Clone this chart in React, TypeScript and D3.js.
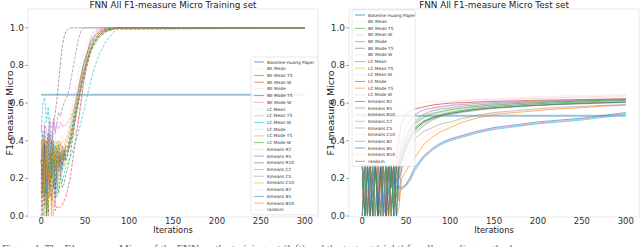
import React from 'react';
import * as d3 from 'd3';

const W = 640;
const H = 247;

// series names (baseline first, then the 22 methods)
const baselineName = 'Baseline Huang Paper';
const methodNames = [
  'BE Mean', 'BE Mean TS', 'BE Mean W', 'BE Mode', 'BE Mode TS', 'BE Mode W',
  'LC Mean', 'LC Mean TS', 'LC Mean W', 'LC Mode', 'LC Mode TS', 'LC Mode W',
  'Kmeans R2', 'Kmeans R5', 'Kmeans R10', 'Kmeans C2', 'Kmeans C5', 'Kmeans C10',
  'Kmeans B2', 'Kmeans B5', 'Kmeans B10', 'random',
];

const xTicks = [0, 50, 100, 150, 200, 250, 300];
const yTicks = [0, 0.2, 0.4, 0.6, 0.8, 1.0];

// ---- training set ----
const trainIters = [0, 2, 4, 6, 8, 10, 12, 14, 16, 18, 20, 22, 24, 26, 28, 30, 33, 36, 39, 42, 45, 48, 52, 56, 60, 66, 74, 85, 300];
const trainBaseline = 0.645;
const trainValues = [
  [0.32, 0.05, 0.41, 0.12, 0.38, 0.0, 0.29, 0.44, 0.18, 0.35, 0.26, 0.4, 0.22, 0.37, 0.3, 0.34, 0.4, 0.47, 0.55, 0.62, 0.69, 0.75, 0.82, 0.88, 0.92, 0.96, 0.985, 0.998, 1],
  [0.28, 0.45, 0.1, 0.36, 0.02, 0.31, 0.4, 0.15, 0.33, 0.27, 0.38, 0.21, 0.3, 0.35, 0.29, 0.33, 0.38, 0.44, 0.52, 0.6, 0.67, 0.73, 0.8, 0.87, 0.91, 0.95, 0.98, 0.997, 1],
  [0.3, 0.12, 0.38, 0.0, 0.25, 0.33, 0.08, 0.2, 0.03, 0.05, 0.04, 0.05, 0.06, 0.08, 0.1, 0.14, 0.2, 0.3, 0.4, 0.5, 0.6, 0.7, 0.8, 0.88, 0.93, 0.97, 0.99, 1, 1],
  [0.35, 0.2, 0.46, 0.3, 0.1, 0.42, 0.28, 0.37, 0.45, 0.33, 0.4, 0.36, 0.43, 0.39, 0.41, 0.45, 0.52, 0.6, 0.68, 0.75, 0.81, 0.86, 0.91, 0.95, 0.97, 0.99, 1, 1, 1],
  [0.2, 0.38, 0.05, 0.3, 0.44, 0.15, 0.36, 0.48, 0.55, 0.62, 0.72, 0.82, 0.9, 0.95, 0.98, 0.99, 1, 1, 1, 1, 1, 1, 1, 1, 1, 1, 1, 1, 1],
  [0.25, 0.0, 0.3, 0.18, 0.4, 0.1, 0.22, 0.35, 0.05, 0.28, 0.33, 0.2, 0.38, 0.3, 0.36, 0.38, 0.4, 0.42, 0.44, 0.48, 0.58, 0.7, 0.84, 0.94, 0.98, 0.995, 1, 1, 1],
  [0.15, 0.4, 0.27, 0.05, 0.33, 0.22, 0.45, 0.12, 0.3, 0.38, 0.2, 0.34, 0.28, 0.31, 0.27, 0.3, 0.36, 0.43, 0.5, 0.58, 0.65, 0.72, 0.79, 0.86, 0.9, 0.95, 0.98, 0.997, 1],
  [0.1, 0.32, 0.0, 0.25, 0.37, 0.19, 0.05, 0.31, 0.24, 0.4, 0.15, 0.29, 0.36, 0.26, 0.33, 0.35, 0.41, 0.48, 0.56, 0.63, 0.7, 0.76, 0.83, 0.89, 0.93, 0.97, 0.99, 1, 1],
  [0.45, 0.6, 0.63, 0.5, 0.58, 0.35, 0.2, 0.4, 0.28, 0.1, 0.32, 0.25, 0.18, 0.22, 0.26, 0.28, 0.31, 0.35, 0.39, 0.44, 0.49, 0.55, 0.63, 0.71, 0.78, 0.86, 0.93, 0.99, 1],
  [0.05, 0.3, 0.42, 0.0, 0.2, 0.35, 0.12, 0.27, 0.4, 0.18, 0.3, 0.24, 0.37, 0.29, 0.34, 0.37, 0.43, 0.5, 0.57, 0.64, 0.7, 0.77, 0.84, 0.9, 0.94, 0.97, 0.99, 1, 1],
  [0.38, 0.4, 0.2, 0.36, 0.42, 0.3, 0.39, 0.33, 0.25, 0.37, 0.4, 0.28, 0.35, 0.32, 0.38, 0.4, 0.46, 0.53, 0.6, 0.67, 0.74, 0.8, 0.86, 0.92, 0.95, 0.98, 0.995, 1, 1],
  [0.3, 0.1, 0.35, 0.0, 0.28, 0.15, 0.4, 0.22, 0.33, 0.18, 0.12, 0.2, 0.15, 0.17, 0.22, 0.25, 0.32, 0.42, 0.52, 0.6, 0.68, 0.75, 0.82, 0.88, 0.92, 0.96, 0.985, 0.998, 1],
  [0.22, 0.35, 0.08, 0.3, 0.16, 0.4, 0.25, 0.0, 0.2, 0.32, 0.27, 0.36, 0.31, 0.28, 0.34, 0.36, 0.42, 0.49, 0.57, 0.65, 0.72, 0.79, 0.86, 0.91, 0.95, 0.98, 0.995, 1, 1],
  [0.4, 0.15, 0.48, 0.3, 0.44, 0.5, 0.38, 0.52, 0.45, 0.5, 0.55, 0.53, 0.57, 0.6, 0.62, 0.64, 0.7, 0.78, 0.86, 0.93, 0.98, 1, 1, 1, 1, 1, 1, 1, 1],
  [0.12, 0.28, 0.4, 0.2, 0.0, 0.33, 0.26, 0.38, 0.14, 0.3, 0.24, 0.32, 0.27, 0.35, 0.3, 0.33, 0.39, 0.46, 0.54, 0.61, 0.68, 0.75, 0.82, 0.88, 0.92, 0.96, 0.985, 0.998, 1],
  [0.48, 0.3, 0.5, 0.45, 0.36, 0.52, 0.47, 0.5, 0.44, 0.49, 0.46, 0.5, 0.47, 0.49, 0.48, 0.5, 0.52, 0.55, 0.6, 0.66, 0.73, 0.8, 0.87, 0.93, 0.96, 0.99, 1, 1, 1],
  [0.18, 0.0, 0.3, 0.4, 0.22, 0.1, 0.34, 0.28, 0.38, 0.2, 0.31, 0.26, 0.33, 0.3, 0.35, 0.34, 0.4, 0.47, 0.55, 0.62, 0.69, 0.76, 0.83, 0.89, 0.93, 0.97, 0.99, 1, 1],
  [0.25, 0.42, 0.15, 0.35, 0.05, 0.3, 0.38, 0.2, 0.34, 0.27, 0.36, 0.3, 0.33, 0.37, 0.4, 0.42, 0.48, 0.55, 0.62, 0.69, 0.75, 0.81, 0.87, 0.92, 0.95, 0.98, 0.995, 1, 1],
  [0.33, 0.5, 0.25, 0.42, 0.3, 0.15, 0.36, 0.0, 0.28, 0.33, 0.38, 0.3, 0.26, 0.34, 0.31, 0.32, 0.37, 0.44, 0.51, 0.58, 0.65, 0.72, 0.8, 0.86, 0.91, 0.95, 0.98, 0.997, 1],
  [0.0, 0.25, 0.38, 0.12, 0.32, 0.44, 0.2, 0.3, 0.1, 0.36, 0.29, 0.34, 0.24, 0.33, 0.37, 0.36, 0.42, 0.5, 0.58, 0.66, 0.73, 0.8, 0.86, 0.91, 0.95, 0.98, 0.995, 1, 1],
  [0.36, 0.1, 0.28, 0.4, 0.18, 0.32, 0.0, 0.25, 0.37, 0.22, 0.34, 0.39, 0.3, 0.36, 0.33, 0.35, 0.4, 0.46, 0.53, 0.6, 0.67, 0.74, 0.81, 0.87, 0.92, 0.96, 0.985, 0.998, 1],
  [0.27, 0.38, 0.12, 0.33, 0.45, 0.2, 0.3, 0.4, 0.15, 0.25, 0.35, 0.28, 0.32, 0.3, 0.36, 0.33, 0.38, 0.45, 0.52, 0.59, 0.66, 0.73, 0.8, 0.86, 0.9, 0.95, 0.98, 0.997, 1],
];
const trainAlpha = [0.18, 0.75, 0.7, 0.18, 0.75, 0.7, 0.18, 0.7, 0.75, 0.18, 0.7, 0.75, 0.2, 0.75, 0.7, 0.7, 0.6, 0.7, 0.18, 0.7, 0.7, 0.18];

// ---- test set ----
const testIters = [0, 3, 6, 9, 12, 15, 18, 21, 24, 27, 30, 33, 36, 39, 42, 45, 50, 55, 60, 70, 80, 90, 100, 115, 130, 150, 175, 200, 225, 250, 275, 300];
const testBaseline = 0.533;
const testValues = [
  [0.27, 0.0, 0.25, 0.1, 0.27, 0.02, 0.2, 0.27, 0.05, 0.27, 0.15, 0.27, 0.3, 0.45, 0.55, 0.58, 0.59, 0.6, 0.6, 0.605, 0.607, 0.61, 0.612, 0.615, 0.617, 0.62, 0.622, 0.625, 0.627, 0.628, 0.63, 0.632],
  [0.0, 0.27, 0.03, 0.25, 0.0, 0.27, 0.12, 0.0, 0.27, 0.08, 0.27, 0.02, 0.22, 0.1, 0.27, 0.3, 0.38, 0.43, 0.47, 0.505, 0.525, 0.54, 0.55, 0.563, 0.573, 0.582, 0.59, 0.597, 0.602, 0.606, 0.61, 0.614],
  [0.27, 0.05, 0.27, 0.0, 0.22, 0.27, 0.0, 0.27, 0.1, 0.0, 0.27, 0.2, 0.27, 0.05, 0.27, 0.32, 0.4, 0.45, 0.48, 0.52, 0.54, 0.55, 0.56, 0.57, 0.58, 0.585, 0.59, 0.595, 0.598, 0.6, 0.603, 0.605],
  [0.1, 0.27, 0.0, 0.27, 0.18, 0.0, 0.27, 0.04, 0.27, 0.0, 0.25, 0.27, 0.06, 0.27, 0.2, 0.33, 0.42, 0.47, 0.5, 0.54, 0.56, 0.57, 0.575, 0.585, 0.59, 0.597, 0.603, 0.607, 0.61, 0.613, 0.616, 0.618],
  [0.27, 0.0, 0.2, 0.27, 0.0, 0.27, 0.06, 0.27, 0.0, 0.27, 0.12, 0.0, 0.27, 0.18, 0.27, 0.3, 0.37, 0.42, 0.46, 0.5, 0.52, 0.535, 0.545, 0.557, 0.567, 0.575, 0.583, 0.59, 0.595, 0.6, 0.603, 0.606],
  [0.0, 0.27, 0.1, 0.27, 0.0, 0.22, 0.27, 0.0, 0.27, 0.15, 0.27, 0.0, 0.27, 0.35, 0.45, 0.5, 0.53, 0.55, 0.56, 0.58, 0.59, 0.6, 0.605, 0.612, 0.618, 0.624, 0.63, 0.634, 0.637, 0.64, 0.642, 0.645],
  [0.27, 0.12, 0.0, 0.27, 0.25, 0.0, 0.27, 0.15, 0.0, 0.27, 0.0, 0.27, 0.1, 0.27, 0.08, 0.28, 0.35, 0.4, 0.44, 0.48, 0.51, 0.53, 0.54, 0.552, 0.562, 0.572, 0.58, 0.587, 0.592, 0.596, 0.6, 0.603],
  [0.05, 0.27, 0.0, 0.2, 0.27, 0.0, 0.27, 0.27, 0.02, 0.2, 0.27, 0.0, 0.27, 0.12, 0.25, 0.29, 0.36, 0.41, 0.45, 0.49, 0.515, 0.53, 0.543, 0.555, 0.565, 0.575, 0.583, 0.59, 0.596, 0.6, 0.604, 0.607],
  [0.27, 0.0, 0.27, 0.05, 0.0, 0.27, 0.18, 0.27, 0.0, 0.27, 0.1, 0.27, 0.0, 0.27, 0.3, 0.36, 0.43, 0.47, 0.5, 0.53, 0.55, 0.56, 0.568, 0.577, 0.585, 0.592, 0.598, 0.603, 0.607, 0.61, 0.613, 0.615],
  [0.2, 0.27, 0.0, 0.27, 0.1, 0.27, 0.0, 0.25, 0.27, 0.0, 0.27, 0.05, 0.2, 0.15, 0.16, 0.15, 0.17, 0.21, 0.26, 0.32, 0.36, 0.39, 0.41, 0.43, 0.45, 0.47, 0.485, 0.5, 0.51, 0.52, 0.535, 0.55],
  [0.27, 0.0, 0.27, 0.15, 0.0, 0.27, 0.22, 0.0, 0.27, 0.0, 0.27, 0.18, 0.27, 0.0, 0.05, 0.2, 0.24, 0.28, 0.31, 0.38, 0.42, 0.45, 0.47, 0.5, 0.52, 0.54, 0.55, 0.56, 0.57, 0.575, 0.585, 0.59],
  [0.0, 0.2, 0.27, 0.0, 0.27, 0.1, 0.0, 0.27, 0.2, 0.27, 0.0, 0.27, 0.15, 0.0, 0.27, 0.3, 0.38, 0.44, 0.47, 0.51, 0.53, 0.545, 0.555, 0.565, 0.575, 0.583, 0.59, 0.596, 0.6, 0.604, 0.607, 0.61],
  [0.27, 0.0, 0.27, 0.0, 0.27, 0.27, 0.0, 0.2, 0.27, 0.0, 0.27, 0.27, 0.0, 0.3, 0.42, 0.5, 0.54, 0.56, 0.57, 0.58, 0.59, 0.595, 0.6, 0.603, 0.606, 0.609, 0.612, 0.615, 0.617, 0.619, 0.621, 0.623],
  [0.15, 0.27, 0.05, 0.27, 0.0, 0.27, 0.1, 0.27, 0.0, 0.27, 0.22, 0.0, 0.27, 0.25, 0.3, 0.4, 0.47, 0.51, 0.54, 0.565, 0.575, 0.582, 0.587, 0.593, 0.598, 0.603, 0.607, 0.611, 0.614, 0.617, 0.62, 0.622],
  [0.27, 0.1, 0.0, 0.27, 0.0, 0.27, 0.27, 0.0, 0.15, 0.27, 0.0, 0.27, 0.2, 0.27, 0.28, 0.35, 0.42, 0.47, 0.51, 0.55, 0.57, 0.58, 0.59, 0.6, 0.607, 0.614, 0.62, 0.625, 0.629, 0.633, 0.636, 0.638],
  [0.0, 0.27, 0.12, 0.27, 0.0, 0.25, 0.27, 0.0, 0.27, 0.1, 0.0, 0.27, 0.1, 0.2, 0.14, 0.15, 0.16, 0.19, 0.24, 0.31, 0.355, 0.385, 0.405, 0.425, 0.445, 0.465, 0.48, 0.495, 0.505, 0.515, 0.53, 0.545],
  [0.27, 0.0, 0.27, 0.2, 0.0, 0.27, 0.0, 0.27, 0.1, 0.27, 0.0, 0.2, 0.27, 0.0, 0.2, 0.25, 0.3, 0.36, 0.41, 0.45, 0.47, 0.49, 0.5, 0.52, 0.535, 0.55, 0.56, 0.57, 0.578, 0.583, 0.588, 0.592],
  [0.1, 0.27, 0.0, 0.27, 0.27, 0.05, 0.27, 0.0, 0.27, 0.2, 0.27, 0.0, 0.27, 0.22, 0.32, 0.38, 0.44, 0.48, 0.51, 0.54, 0.555, 0.565, 0.572, 0.58, 0.588, 0.595, 0.6, 0.604, 0.607, 0.61, 0.612, 0.614],
  [0.27, 0.0, 0.27, 0.05, 0.27, 0.0, 0.18, 0.27, 0.0, 0.27, 0.12, 0.27, 0.0, 0.18, 0.15, 0.14, 0.16, 0.2, 0.25, 0.31, 0.35, 0.38, 0.4, 0.42, 0.44, 0.46, 0.475, 0.49, 0.5, 0.51, 0.525, 0.54],
  [0.0, 0.27, 0.27, 0.0, 0.2, 0.27, 0.0, 0.27, 0.05, 0.0, 0.27, 0.15, 0.27, 0.0, 0.27, 0.3, 0.37, 0.42, 0.46, 0.5, 0.52, 0.535, 0.545, 0.556, 0.566, 0.575, 0.582, 0.589, 0.594, 0.598, 0.602, 0.605],
  [0.27, 0.05, 0.0, 0.27, 0.27, 0.0, 0.27, 0.12, 0.27, 0.0, 0.27, 0.0, 0.1, 0.2, 0.22, 0.24, 0.28, 0.33, 0.37, 0.42, 0.45, 0.47, 0.49, 0.51, 0.53, 0.545, 0.555, 0.565, 0.572, 0.578, 0.583, 0.588],
  [0.2, 0.0, 0.27, 0.27, 0.0, 0.27, 0.05, 0.0, 0.27, 0.27, 0.0, 0.27, 0.0, 0.27, 0.28, 0.34, 0.41, 0.46, 0.49, 0.525, 0.545, 0.555, 0.565, 0.575, 0.583, 0.59, 0.597, 0.602, 0.607, 0.611, 0.615, 0.618],
];
const testAlpha = [0.18, 0.75, 0.18, 0.7, 0.7, 0.2, 0.7, 0.7, 0.18, 0.75, 0.75, 0.18, 0.75, 0.7, 0.18, 0.7, 0.6, 0.18, 0.75, 0.75, 0.2, 0.75];

const FONT = '"DejaVu Sans", sans-serif';
const color = (i: number) => d3.schemeCategory10[i % 10];

type PanelProps = {
  left: number;
  title: string;
  iters: number[];
  values: number[][];
  baseline: number;
  alpha: number[];
  dashed: boolean;
  legend: { x: number; y: number; w: number; step: number };
};

function Panel({ left, title, iters, values, baseline, alpha, dashed, legend }: PanelProps) {
  const right = left + 290;
  const top = 9;
  const bottom = 217;
  const x = d3.scaleLinear().domain([-15, 315]).range([left, right]);
  const y = d3.scaleLinear().domain([-0.005, 1.1]).range([bottom, top]);
  const line = d3.line<number>().x((_, i) => x(iters[i])).y(d => y(d));
  const clipId = `clip-${left}`;
  const legendNames = [baselineName, ...methodNames];
  const legendH = legend.step * (legendNames.length - 1) + 10;

  return (
    <g>
      <defs>
        <clipPath id={clipId}>
          <rect x={left} y={top} width={right - left} height={bottom - top} />
        </clipPath>
      </defs>
      <rect x={left} y={top} width={right - left} height={bottom - top} fill="white" stroke="#e3e3e3" strokeWidth={0.8} />
      <g clipPath={`url(#${clipId})`}>
        <line x1={x(0)} x2={x(300)} y1={y(baseline)} y2={y(baseline)} stroke={color(0)} strokeOpacity={0.45} strokeWidth={2} />
        {values.map((vals, i) => (
          <path
            key={i}
            d={line(vals) || ''}
            fill="none"
            stroke={color(i + 1)}
            strokeOpacity={alpha[i]}
            strokeWidth={0.8}
            strokeDasharray={dashed ? '3,1.4' : undefined}
          />
        ))}
      </g>
      {/* y axis */}
      {yTicks.map(t => (
        <g key={t}>
          <line x1={left - 3} x2={left} y1={y(t)} y2={y(t)} stroke="#666" strokeWidth={0.6} />
          <text x={left - 4} y={y(t)} dy="0.33em" textAnchor="end" fontSize={9} fill="#333" fontFamily={FONT}>
            {t.toFixed(1)}
          </text>
        </g>
      ))}
      {/* x axis */}
      {xTicks.map(t => (
        <g key={t}>
          <line x1={x(t)} x2={x(t)} y1={bottom} y2={bottom + 1.5} stroke="#666" strokeWidth={0.6} />
          <text x={x(t)} y={bottom + 7} textAnchor="middle" fontSize={8.5} fill="#333" fontFamily={FONT}>
            {t}
          </text>
        </g>
      ))}
      <text x={(left + right) / 2} y={233} textAnchor="middle" fontSize={8.3} fill="#222" fontFamily={FONT}>
        Iterations
      </text>
      <text
        transform={`translate(${left - 15},${(top + bottom) / 2}) rotate(-90)`}
        textAnchor="middle"
        fontSize={9.5}
        fill="#222"
        fontFamily={FONT}
      >
        F1-measure Micro
      </text>
      <text x={(left + right) / 2} y={7.5} textAnchor="middle" fontSize={8.8} fill="#222" fontFamily={FONT}>
        {title}
      </text>
      {/* legend */}
      <g>
        <rect x={legend.x} y={legend.y} width={legend.w} height={legendH} rx={1.5} fill="white" fillOpacity={0.8} stroke="#d0d0d0" strokeWidth={0.5} />
        {legendNames.map((name, i) => {
          const ly = legend.y + 5 + i * legend.step;
          const isBase = i === 0;
          return (
            <g key={name}>
              <line
                x1={legend.x + 3}
                x2={legend.x + 13}
                y1={ly}
                y2={ly}
                stroke={color(i)}
                strokeOpacity={isBase ? 0.45 : alpha[i - 1]}
                strokeWidth={isBase ? 1.6 : 0.8}
              />
              <text x={legend.x + 16} y={ly} dy="0.35em" fontSize={4.3} fill="#333" fontFamily={FONT}>
                {name}
              </text>
            </g>
          );
        })}
      </g>
    </g>
  );
}

export default function App() {
  return (
    <svg width={W} height={H} style={{ position: 'absolute', left: 0, top: 0, background: 'white' }}>
      <Panel
        left={28}
        title="FNN All F1-measure Micro Training set"
        iters={trainIters}
        values={trainValues}
        baseline={trainBaseline}
        alpha={trainAlpha}
        dashed={true}
        legend={{ x: 251, y: 57, w: 67, step: 6.72 }}
      />
      <Panel
        left={349}
        title="FNN All F1-measure Micro Test set"
        iters={testIters}
        values={testValues}
        baseline={testBaseline}
        alpha={testAlpha}
        dashed={false}
        legend={{ x: 352, y: 10, w: 63, step: 6.65 }}
      />
      <text x={2} y={252} fontSize={11} fill="#666" fontFamily='"Liberation Serif", serif'>
        Figure 4: The F1-measure Micro of the FNN on the training set (left) and the test set (right) for all sampling methods.
      </text>
    </svg>
  );
}
